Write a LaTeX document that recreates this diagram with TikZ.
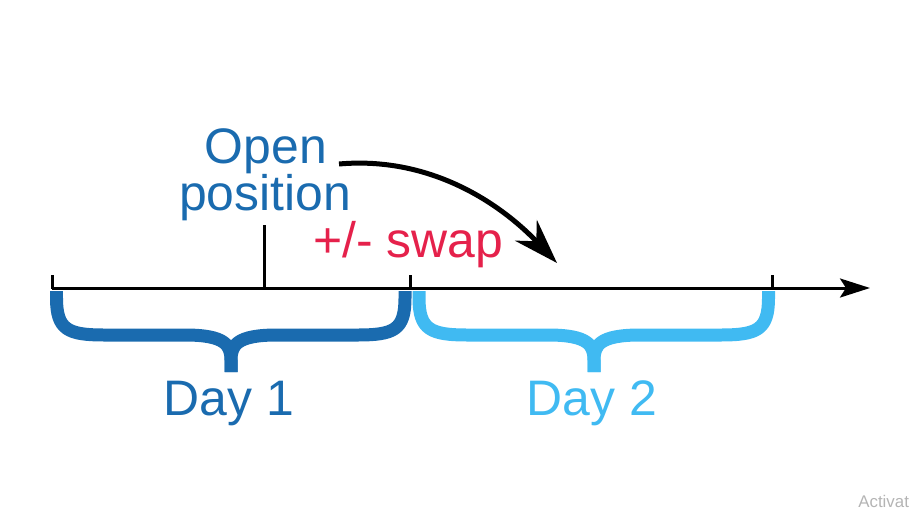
\documentclass[tikz,border=0pt]{standalone}
\usepackage{fontspec}
\setmainfont{Liberation Sans}
\usetikzlibrary{arrows.meta}
\definecolor{dblue}{HTML}{1A6BAF}
\definecolor{lblue}{HTML}{40BAF2}
\definecolor{swapred}{HTML}{E5214B}
\definecolor{wmgray}{HTML}{B4B4B4}
\tikzset{
  bigtext/.style={font=\fontsize{28.4}{26.6}\selectfont, inner sep=0pt, anchor=base},
  axisline/.style={line width=0.06cm, black},
  tickline/.style={line width=0.06cm, black},
  bracepath/.style={line width=0.26cm, line cap=butt, line join=round},
}
\begin{document}
\begin{tikzpicture}[x=0.02cm, y=-0.02cm]
\useasboundingbox (0,0) rectangle (919,511);
% axis
\coordinate (a0) at (52,288);
\coordinate (aend) at (870,288);
\draw[axisline, -{Stealth[length=0.6cm, width=0.38cm, inset=0.12cm]}] (a0) -- (aend);
% ticks
\coordinate (t1) at (52,275);
\coordinate (t1b) at (52,289);
\coordinate (t2) at (264,225);
\coordinate (t2b) at (264,289);
\coordinate (t3) at (410,275);
\coordinate (t3b) at (410,289);
\coordinate (t4) at (772,275);
\coordinate (t4b) at (772,289);
\draw[tickline] (t1) -- (t1b);
\draw[tickline] (t2) -- (t2b);
\draw[tickline] (t3) -- (t3b);
\draw[tickline] (t4) -- (t4b);
% brace day 1
\draw[bracepath, dblue] (56.5,291) -- (56.5,298) .. controls (56.5,330) and (68,335) .. (105,335) -- (185,335) .. controls (225,335) and (231,345) .. (231,360) -- (231,372);
\draw[bracepath, dblue] (405,291) -- (405,298) .. controls (405,330) and (394,335) .. (357,335) -- (277,335) .. controls (237,335) and (231,345) .. (231,360) -- (231,372);
% brace day 2
\draw[bracepath, lblue] (419,291) -- (419,298) .. controls (419,330) and (431,335) .. (468,335) -- (548,335) .. controls (588,335) and (594,345) .. (594,360) -- (594,372);
\draw[bracepath, lblue] (768.5,291) -- (768.5,298) .. controls (768.5,330) and (757,335) .. (720,335) -- (640,335) .. controls (600,335) and (594,345) .. (594,360) -- (594,372);
% texts
\node[bigtext, dblue] (open) at (266,163) {Open};
\node[bigtext, dblue] (position) at (265,210) {position};
\node[bigtext, swapred, anchor=base west] (swap) at (313,257) {+/- swap};
\node[bigtext, dblue] (day1) at (229,415) {Day 1};
\node[bigtext, lblue] (day2) at (592,415) {Day 2};
\node[font=\fontsize{9.6}{10}\selectfont, text=wmgray, inner sep=0pt, anchor=base west] (wm) at (858,507) {Activat};
% curved arrow
\coordinate (cs) at (339,164);
\coordinate (ce) at (557,263);
\draw[line width=0.1cm, black, -{Stealth[length=0.9cm, width=0.6cm, inset=0.3cm]}] (cs) .. controls (430,156) and (500,203) .. (ce);
\end{tikzpicture}
\end{document}
